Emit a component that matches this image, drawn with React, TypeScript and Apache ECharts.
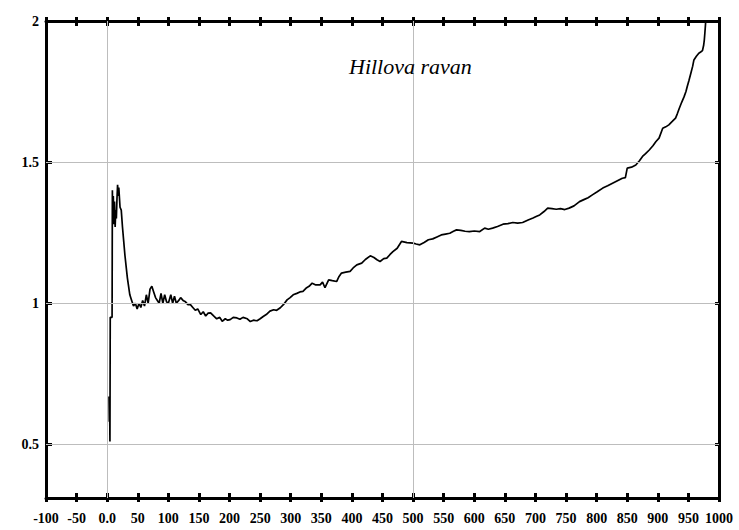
import React, { useEffect, useRef } from "react";
import * as echarts from "echarts";

// Measured curve: distance along the profile and the corresponding ratio
const distance = [
  3, 3.5, 4, 4.5, 5, 8, 8.5, 9, 10, 11, 12, 13, 14, 15, 16, 17, 18, 19, 21, 23,
  25, 27, 29, 31, 33, 35, 37, 40, 43, 46, 49, 52, 55, 58, 61, 64, 67, 70, 73, 76,
  79, 82, 85, 88, 91, 94, 97, 100, 104, 107, 110, 113, 117, 120, 124, 128, 132, 136, 140, 144,
  148, 153, 157, 161, 165, 169, 174, 179, 184, 188, 193, 197, 201, 206, 212, 217, 222, 229, 234, 239,
  245, 250, 255, 260, 266, 272, 277, 283, 288, 294, 299, 304, 310, 315, 320, 326, 330, 335, 341, 348,
  352, 356, 362, 368, 375, 379, 383, 390, 397, 402, 408, 416, 422, 430, 436, 441, 446, 452, 457, 462,
  467, 474, 481, 490, 500, 505, 511, 518, 525, 532, 539, 546, 553, 560, 566, 571, 578, 585, 592, 600,
  609, 617, 623, 630, 638, 647, 655, 663, 671, 679, 688, 696, 702, 707, 714, 720, 727, 734, 741, 748,
  755, 763, 772, 780, 786, 793, 801, 810, 818, 826, 834, 842, 847, 850, 857, 864, 870, 875, 880, 886,
  892, 897, 902, 908, 913, 918, 924, 929, 932, 935, 939, 943, 946, 948, 951, 954, 957, 959, 963, 967,
  970, 973, 975, 976, 977, 978, 980,
];

const ratio = [
  0.67, 0.58, 0.66, 0.51, 0.95, 0.95, 1.4, 1.3, 1.38, 1.28, 1.36, 1.27, 1.33, 1.3, 1.37, 1.42, 1.38, 1.41, 1.34, 1.33,
  1.27, 1.22, 1.17, 1.13, 1.09, 1.06, 1.03, 1.01, 0.99, 1.0, 0.98, 1.0, 0.985, 1.01, 0.99, 1.03, 1.0, 1.05, 1.06, 1.04,
  1.02, 1.01, 1.0, 1.035, 1.0, 1.03, 1.005, 1.0, 1.03, 1.0, 1.025, 1.0, 1.01, 1.02, 1.01, 1.005, 0.995, 0.995, 0.985, 0.975,
  0.98, 0.96, 0.97, 0.955, 0.965, 0.966, 0.955, 0.945, 0.95, 0.936, 0.945, 0.94, 0.942, 0.95, 0.948, 0.943, 0.95, 0.945, 0.935, 0.94,
  0.938, 0.945, 0.953, 0.96, 0.972, 0.977, 0.975, 0.984, 0.995, 1.012, 1.02, 1.03, 1.035, 1.04, 1.042, 1.055, 1.06, 1.071, 1.065, 1.065,
  1.075, 1.055, 1.083, 1.08, 1.077, 1.095, 1.107, 1.11, 1.113, 1.125, 1.136, 1.142, 1.155, 1.168, 1.162, 1.154, 1.148, 1.158, 1.16, 1.172,
  1.183, 1.195, 1.219, 1.215, 1.213, 1.21, 1.207, 1.215, 1.225, 1.228, 1.235, 1.242, 1.245, 1.248, 1.255, 1.26, 1.258, 1.255, 1.254, 1.256,
  1.254, 1.266, 1.262, 1.266, 1.272, 1.28, 1.282, 1.286, 1.284, 1.286, 1.295, 1.302, 1.308, 1.313, 1.325, 1.337, 1.335, 1.333, 1.335, 1.332,
  1.337, 1.345, 1.36, 1.368, 1.374, 1.384, 1.395, 1.408, 1.416, 1.425, 1.434, 1.443, 1.445, 1.479, 1.482, 1.49, 1.505, 1.52, 1.53, 1.543,
  1.558, 1.573, 1.585, 1.62, 1.625, 1.632, 1.645, 1.656, 1.672, 1.69, 1.712, 1.732, 1.75, 1.767, 1.79, 1.815, 1.84, 1.862, 1.875, 1.886,
  1.89, 1.895, 1.915, 1.933, 1.96, 1.99, 2.1,
];

const yTickValues = [0.5, 1, 1.5, 2];
const xGridValues = [0, 500];
const chartTitle = "Hillova ravan";

const serif = "'Liberation Serif', 'DejaVu Serif', serif";
const axisLine = { show: true, onZero: false, lineStyle: { color: "#000", width: 3 } };
const tickStyle = { color: "#000", width: 3 };

export default function App() {
  const ref = useRef<HTMLDivElement>(null);

  useEffect(() => {
    if (!ref.current) return;
    const chart = echarts.init(ref.current, null, { renderer: "svg" });
    const points = distance.map((d, i) => [d, ratio[i]]);

    const xBase = {
      type: "value" as const,
      min: -100,
      max: 1000,
      interval: 50,
      splitLine: { show: false },
    };
    const yBase = {
      type: "value" as const,
      min: 0.31,
      max: 2,
      splitLine: { show: false },
    };
    const labelText = {
      fontFamily: serif,
      fontWeight: "bold" as const,
      fontSize: 14,
      color: "#000",
    };

    chart.setOption({
      animation: false,
      backgroundColor: "#fff",
      title: {
        text: chartTitle,
        left: 349,
        top: 55,
        padding: 0,
        textStyle: {
          fontFamily: serif,
          fontStyle: "italic",
          fontWeight: "normal",
          fontSize: 22,
          color: "#000",
        },
      },
      grid: { left: 46, right: 20, top: 21, bottom: 32, containLabel: false },
      xAxis: [
        {
          ...xBase,
          position: "bottom",
          axisLine,
          axisTick: { show: true, inside: true, length: 5, lineStyle: tickStyle },
          axisLabel: {
            show: true,
            margin: 13,
            ...labelText,
            formatter: (v: number) => (v === 0 ? "0.0" : String(v)),
          },
        },
        {
          ...xBase,
          position: "bottom",
          axisLine: { show: false, onZero: false },
          axisTick: { show: true, inside: false, length: 4, lineStyle: tickStyle },
          axisLabel: { show: false },
        },
        {
          ...xBase,
          position: "top",
          axisLine,
          axisTick: { show: true, inside: true, length: 5, lineStyle: tickStyle },
          axisLabel: { show: false },
        },
        {
          ...xBase,
          position: "top",
          axisLine: { show: false, onZero: false },
          axisTick: { show: true, inside: false, length: 4, lineStyle: tickStyle },
          axisLabel: { show: false },
        },
      ],
      yAxis: [
        {
          ...yBase,
          position: "left",
          axisLine,
          axisTick: {
            show: true,
            inside: true,
            length: 6,
            customValues: yTickValues,
            lineStyle: tickStyle,
          },
          axisLabel: {
            show: true,
            margin: 7,
            customValues: yTickValues,
            ...labelText,
            formatter: (v: number) => String(v),
          },
        },
        {
          ...yBase,
          position: "right",
          axisLine,
          axisTick: {
            show: true,
            inside: true,
            length: 4,
            customValues: yTickValues,
            lineStyle: tickStyle,
          },
          axisLabel: { show: false },
        },
      ],
      series: [
        {
          name: "grid",
          type: "line",
          data: [],
          silent: true,
          z: 1,
          markLine: {
            silent: true,
            symbol: ["none", "none"],
            animation: false,
            label: { show: false },
            lineStyle: { color: "#bdbdbd", width: 1, type: "solid" },
            data: [
              ...xGridValues.map((v) => ({ xAxis: v })),
              ...yTickValues.filter((v) => v < 2).map((v) => ({ yAxis: v })),
            ],
          },
        },
        {
          name: chartTitle,
          type: "line",
          data: points,
          showSymbol: false,
          symbol: "none",
          clip: true,
          z: 3,
          lineStyle: { color: "#000", width: 1.7 },
        },
      ],
    });

    return () => chart.dispose();
  }, []);

  return (
    <div
      ref={ref}
      style={{ position: "fixed", left: 0, top: 0, width: 739, height: 530 }}
    />
  );
}
